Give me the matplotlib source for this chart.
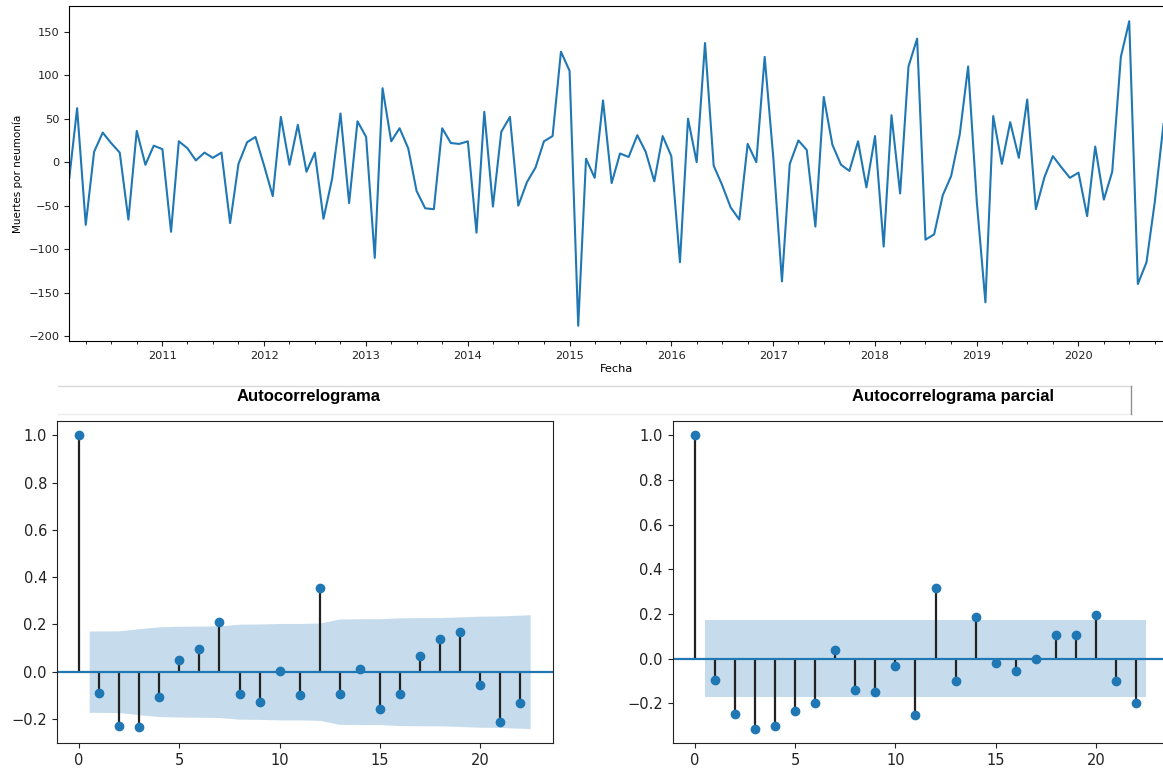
import matplotlib
matplotlib.use("Agg")
import matplotlib.pyplot as plt
import matplotlib.dates as mdates
from matplotlib.lines import Line2D
import numpy as np
import pandas as pd

# monthly deaths by pneumonia (differenced series), Feb 2010 - Nov 2020
start_month = "2010-02-01"
muertes = [
    -18, 62, -72, 12, 34, 22, 11, -66, 36, -3, 19,
    15, -80, 24, 16, 2, 11, 5, 11, -70, -2, 23, 29,
    -4, -39, 52, -3, 43, -11, 11, -65, -19, 56, -47, 47,
    29, -110, 85, 24, 39, 16, -33, -53, -54, 39, 22, 21,
    24, -81, 58, -51, 35, 52, -50, -23, -6, 24, 30, 127,
    105, -188, 4, -18, 71, -24, 10, 6, 31, 12, -22, 30,
    7, -115, 50, 0, 137, -4, -26, -52, -66, 21, 0, 121,
    5, -137, -2, 25, 14, -74, 75, 20, -3, -10, 24, -29,
    30, -97, 54, -36, 110, 142, -89, -83, -38, -16, 32, 110,
    -45, -161, 53, -2, 46, 5, 72, -54, -17, 7, -6, -18,
    -12, -62, 18, -43, -11, 121, 162, -140, -115, -45, 44,
]

lags = list(range(23))
acf_vals = [1.0, -0.089, -0.228, -0.233, -0.108, 0.049, 0.094, 0.212, -0.094,
            -0.127, 0.004, -0.100, 0.354, -0.094, 0.013, -0.158, -0.094, 0.068,
            0.138, 0.167, -0.056, -0.214, -0.132]
# half width of the 95% band for lags 1..22
acf_band = [0.172, 0.173, 0.182, 0.190, 0.192, 0.193, 0.194, 0.201, 0.202,
            0.204, 0.204, 0.206, 0.223, 0.224, 0.224, 0.228, 0.229, 0.229,
            0.232, 0.235, 0.236, 0.241]

pacf_vals = [1.0, -0.094, -0.246, -0.313, -0.301, -0.234, -0.200, 0.039, -0.142,
             -0.148, -0.034, -0.253, 0.316, -0.101, 0.185, -0.021, -0.055, 0.0,
             0.104, 0.104, 0.197, -0.101, -0.200]
pacf_band = [0.172] * 22

W, H = 1163, 774


def box(l, t, r, b):
    return [l / W, 1 - b / H, (r - l) / W, (b - t) / H]


def correlogram(ax, vals, band):
    x = np.array(lags, dtype=float)
    y = np.array(vals)
    bx = x[1:].copy()
    bx[0] -= 0.5
    bx[-1] += 0.5
    b = np.array(band)
    ax.fill_between(bx, -b, b, color="C0", alpha=0.25, linewidth=0)
    ax.vlines(x, 0, y, colors="#222222", linewidth=1.6)
    ax.axhline(0, color="C0", linewidth=1.6)
    ax.plot(x, y, "o", color="C0", markersize=6, zorder=3)
    ax.margins(0.05)
    ax.tick_params(labelsize=10.5, colors="#222222")
    ax.xaxis.set_major_locator(plt.MultipleLocator(5))
    ax.yaxis.set_major_locator(plt.MultipleLocator(0.2))
    for s in ax.spines.values():
        s.set_color("#222222")


fig = plt.figure(figsize=(W / 100, H / 100), dpi=100)

# series
fechas = pd.date_range(start_month, periods=len(muertes), freq="MS")
ax = fig.add_axes(box(69.3, 6, 1163.5, 341))
ax.plot(fechas, muertes, color="C0", linewidth=1.5)
ax.set_xlim(fechas[0], fechas[-1])
ax.margins(y=0.05)
ax.xaxis.set_major_locator(mdates.YearLocator())
ax.xaxis.set_major_formatter(mdates.DateFormatter("%Y"))
ax.xaxis.set_minor_locator(mdates.MonthLocator(bymonth=[4, 7, 10]))
ax.yaxis.set_major_locator(plt.MultipleLocator(50))
ax.tick_params(labelsize=8.2, colors="#222222")
ax.tick_params(which="minor", length=2)
ax.spines["right"].set_visible(False)
ax.set_xlabel("Fecha", fontsize=8.2, labelpad=2)
ax.set_ylabel("Muertes por neumonía", fontsize=7.5, labelpad=4)

# correlograms
ax_acf = fig.add_axes(box(56.6, 420.7, 552.7, 743.3))
correlogram(ax_acf, acf_vals, acf_band)
ax_pacf = fig.add_axes(box(672.5, 420.7, 1168.5, 743.3))
correlogram(ax_pacf, pacf_vals, pacf_band)

# title strip above the correlograms
for yy, c in [(386, "#d8d8d8"), (414, "#ececec")]:
    fig.add_artist(Line2D([58 / W, 1131 / W], [1 - yy / H, 1 - yy / H],
                          color=c, linewidth=1))
fig.add_artist(Line2D([1131 / W, 1131 / W], [1 - 386 / H, 1 - 414 / H],
                      color="#909090", linewidth=1))
fig.text(309 / W, 1 - 397 / H, "Autocorrelograma", ha="center", va="center",
         fontsize=12, fontweight="bold", family="Liberation Sans")
fig.text(953 / W, 1 - 397 / H, "Autocorrelograma parcial", ha="center",
         va="center", fontsize=12, fontweight="bold", family="Liberation Sans")

fig.savefig("out.png", dpi=100)
